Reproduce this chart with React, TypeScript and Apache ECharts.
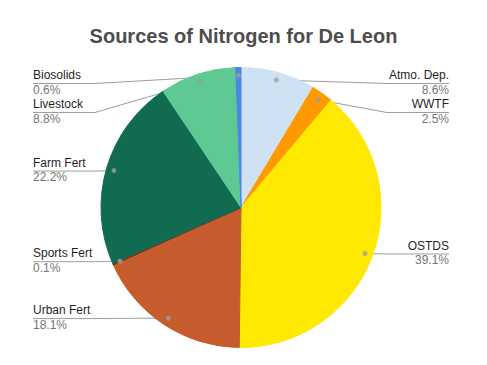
import React, { useEffect, useRef } from "react";
import * as echarts from "echarts";

const categories = ["Atmo. Dep.", "WWTF", "OSTDS", "Urban Fert", "Sports Fert", "Farm Fert", "Livestock", "Biosolids"];
const values = [8.6, 2.5, 39.1, 18.1, 0.1, 22.2, 8.8, 0.6];
const colors = ["#cfe2f3", "#ff9900", "#ffe900", "#c65b2e", "#c00000", "#116b50", "#5ec993", "#4a86e8"];
const titleText = "Sources of Nitrogen for De Leon";

const W = 487;
const H = 365;
const CX = 241;
const CY = 207.5;
const R = 140;
const DOT_FRAC = 0.945;
const LEFT_X = 33;
const RIGHT_X = 449;
const BEND = 62;
const MIN_Y = 83;
const GAP = 29;

function computeLayout() {
  const total = values.reduce((a, b) => a + b, 0);
  let cum = 0;
  const items = values.map((v, i) => {
    const mid = (cum + v / 2) / total;
    cum += v;
    const th = mid * Math.PI * 2;
    const dx = CX + R * DOT_FRAC * Math.sin(th);
    const dy = CY - R * DOT_FRAC * Math.cos(th);
    return { i, mid: mid * 100, dx, dy, left: Math.sin(th) < 0, y: 0 };
  });
  [true, false].forEach((side) => {
    const list = items.filter((it) => it.left === side).sort((a, b) => a.dy - b.dy);
    let prev = -Infinity;
    list.forEach((it) => {
      it.y = Math.max(it.dy, prev + GAP, MIN_Y);
      prev = it.y;
    });
  });
  return items;
}

export default function App() {
  const ref = useRef<HTMLDivElement>(null);
  useEffect(() => {
    if (!ref.current) return;
    const chart = echarts.init(ref.current, undefined, { renderer: "svg" });
    const layout = computeLayout();
    const font = "'Liberation Sans', Arial, sans-serif";
    chart.setOption({
      animation: false,
      backgroundColor: "#ffffff",
      title: {
        text: titleText,
        left: "center",
        top: 21,
        textStyle: { fontFamily: font, fontSize: 20, fontWeight: "bold", color: "#4d4d4d" },
      },
      polar: { center: [CX, CY], radius: R },
      angleAxis: {
        type: "value", min: 0, max: 100, startAngle: 90, clockwise: true, show: false,
        axisLine: { show: false }, axisTick: { show: false }, axisLabel: { show: false }, splitLine: { show: false },
      },
      radiusAxis: {
        type: "value", min: 0, max: 1, show: false,
        axisLine: { show: false }, axisTick: { show: false }, axisLabel: { show: false }, splitLine: { show: false },
      },
      series: [
        {
          type: "pie",
          center: [CX, CY],
          radius: R,
          startAngle: 90,
          clockwise: true,
          avoidLabelOverlap: false,
          data: categories.map((c, i) => ({
            name: c,
            value: values[i],
            itemStyle: { color: colors[i], borderColor: colors[i], borderWidth: 1 },
          })),
          label: {
            show: true,
            position: "outside",
            formatter: (p: any) => `{n|${p.name}}\n{p|${p.value}%}`,
            rich: {
              n: { fontFamily: font, fontSize: 12, color: "#1f1f1f", lineHeight: 14.4 },
              p: { fontFamily: font, fontSize: 12, color: "#757575", lineHeight: 14.4 },
            },
          },
          labelLine: { show: true, lineStyle: { color: "#9e9e9e", width: 1 } },
          labelLayout: (params: any) => {
            const it = layout[params.dataIndex];
            const edge = it.left ? LEFT_X : RIGHT_X;
            const bend = it.left ? LEFT_X + BEND : RIGHT_X - BEND;
            return {
              x: edge,
              y: it.y - 0.5,
              align: it.left ? "left" : "right",
              verticalAlign: "middle",
              labelLinePoints: [
                [edge, it.y + 0.5],
                [bend, it.y + 0.5],
                [it.dx, it.dy],
              ],
            };
          },
        },
        {
          type: "scatter",
          coordinateSystem: "polar",
          z: 5,
          symbolSize: 5,
          itemStyle: { color: "#9e9e9e" },
          silent: true,
          data: layout.map((it) => [DOT_FRAC, it.mid]),
        },
      ],
    });
    return () => chart.dispose();
  }, []);
  return <div ref={ref} style={{ position: "absolute", left: 0, top: 0, width: W, height: H }} />;
}
